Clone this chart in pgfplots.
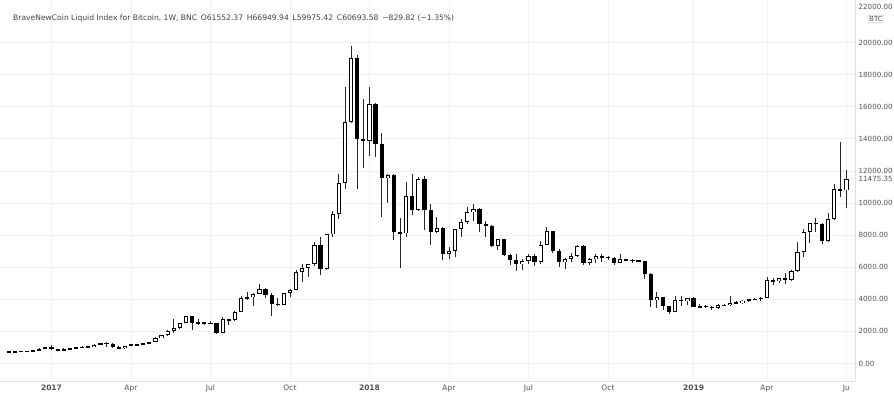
\documentclass[border=0pt]{standalone}
\usepackage{pgfplots}
\pgfplotsset{compat=1.18}
\usepackage{pgfplotstable}
\usepackage{fontspec}
\setmainfont{DejaVu Sans}
\definecolor{gridc}{RGB}{238,241,248}
\definecolor{txt}{RGB}{76,82,94}
\definecolor{sepc}{RGB}{222,225,232}

% weekly candles, w = weeks since 2 Jan 2017
\pgfplotstableread{
w o h l c
-7 703 752 690 731
-6 731 752 726 733
-5 733 778 728 765
-4 765 773 752 773
-3 773 793 768 790
-2 790 935 789 892
-1 892 1000 880 998
0 998 1150 825 905
1 905 912 755 822
2 822 935 815 920
3 920 925 885 918
4 918 1035 915 1020
5 1020 1065 940 1000
6 1000 1055 975 1050
7 1050 1200 1045 1175
8 1175 1290 1165 1270
9 1270 1330 1000 1230
10 1230 1260 960 1020
11 1020 1100 890 965
12 965 1100 920 1090
13 1090 1210 1080 1185
14 1185 1210 1160 1180
15 1180 1270 1175 1250
16 1250 1360 1245 1350
17 1350 1630 1345 1560
18 1560 1800 1560 1780
19 1780 2080 1700 2050
20 2050 2760 1900 2200
21 2200 2550 2150 2520
22 2520 2980 2500 2950
23 2950 2980 2100 2500
24 2500 2770 2430 2550
25 2550 2600 2400 2500
26 2500 2650 2470 2520
27 2520 2550 1840 1900
28 1900 2900 1880 2750
29 2750 2800 2400 2730
30 2730 3290 2650 3230
31 3230 4200 3200 4070
32 4070 4480 3980 4130
33 4130 4400 3600 4310
34 4310 4980 4300 4620
35 4620 4700 4100 4280
36 4280 4370 2980 3700
37 3700 4100 3580 3670
38 3670 4420 3650 4410
39 4410 4620 4150 4600
40 4600 5850 4580 5720
41 5720 6200 5100 5930
42 5930 6200 5400 6180
43 6180 7600 6100 7380
44 7380 7880 5500 5870
45 5870 8080 5850 8040
46 8040 9480 7900 9300
47 9300 11800 9000 11230
48 11230 17200 10900 15070
49 15070 19780 15000 19020
50 19020 19220 10900 13970
51 13970 16480 12200 13880
52 13880 17200 12900 16170
53 16170 16250 12850 13650
54 13650 14340 9150 11540
55 11540 11800 10000 11750
56 11750 11800 7700 8210
57 8210 9090 5950 8100
58 8100 11300 7900 10430
59 10430 11800 9250 9570
60 9570 11600 9500 11470
61 11470 11700 8320 9570
62 9570 9950 7380 8210
63 8210 9100 8100 8460
64 8460 8500 6450 6820
65 6820 7280 6500 7030
66 7030 8400 6620 8370
67 8370 9030 7900 8800
68 8800 9750 8700 9420
69 9420 9950 8850 9630
70 9630 9660 8220 8690
71 8690 8860 7900 8590
72 8590 8600 7250 7340
73 7340 7780 7050 7740
74 7740 7780 6700 6760
75 6760 6850 6130 6450
76 6450 6820 5780 6200
77 6200 6540 5800 6370
78 6370 6830 6230 6720
79 6720 6800 6100 6330
80 6330 7650 6200 7390
81 7390 8500 7380 8250
82 8250 8260 6900 6980
83 6980 7150 5990 6330
84 6330 6570 5880 6500
85 6500 6880 6300 6710
86 6710 7360 6650 7310
87 7310 7410 6150 6240
88 6240 6580 6150 6490
89 6490 6820 6270 6700
90 6700 6800 6350 6630
91 6630 6680 6460 6600
92 6600 6650 6150 6260
93 6260 6840 6240 6480
94 6480 6500 6420 6450
95 6450 6530 6280 6400
96 6400 6480 6300 6370
97 6370 6400 5250 5580
98 5580 5620 3500 3960
99 3960 4450 3450 4120
100 4120 4150 3350 3580
101 3580 3600 3100 3230
102 3230 4200 3190 3950
103 3950 4230 3600 3910
104 3910 4100 3670 4060
105 4060 4150 3500 3540
106 3540 3720 3480 3560
107 3560 3620 3480 3550
108 3550 3570 3350 3480
109 3480 3700 3400 3650
110 3650 3690 3560 3630
111 3630 4200 3600 3790
112 3790 3900 3710 3800
113 3800 3950 3700 3920
114 3920 4040 3850 4000
115 4000 4100 3950 4010
116 4010 4130 3920 4110
117 4110 5400 4100 5200
118 5200 5350 4880 5110
119 5110 5350 5000 5300
120 5300 5620 4960 5210
121 5210 5850 5150 5770
122 5770 7600 5700 6970
123 6970 8350 6650 8170
124 8170 8740 7500 8730
125 8730 9080 8200 8720
126 8720 8780 7470 7650
127 7650 9350 7550 9000
128 9000 11200 8970 10850
129 10850 13820 10400 10780
130 10780 12060 9670 11475.35
}\weekly

\begin{document}
\begin{tikzpicture}
\useasboundingbox (0,0) rectangle (894bp,394bp);
\begin{axis}[
    at={(0,13bp)}, anchor=south west,
    scale only axis, width=855bp, height=381bp,
    xmin=-8.42, xmax=131.4,
    ymin=-1090, ymax=22648,
    axis x line*=bottom, axis y line*=right,
    axis line style={draw=sepc, line width=0.8bp},
    major tick length=0pt,
    xtick={0,13,26,39,52,65,78,91,105,117,130},
    xticklabels={\textbf{2017},Apr,Jul,Oct,\textbf{2018},Apr,Jul,Oct,\textbf{2019},Apr,Ju},
    ytick={0,2000,4000,6000,8000,10000,12000,14000,16000,18000,20000},
    yticklabels={0.00,2000.00,4000.00,6000.00,8000.00,10000.00,12000.00,14000.00,16000.00,18000.00,20000.00},
    extra y ticks={11475.35},
    extra y tick labels={11475.35},
    extra y tick style={grid=none},
    grid=major,
    grid style={draw=gridc, line width=0.8bp},
    ticklabel style={font=\fontsize{7.5bp}{9bp}\selectfont, text=txt},
    yticklabel style={anchor=west, inner sep=0pt, xshift=3.5bp, font=\fontsize{7.1bp}{9bp}\selectfont},
    xticklabel style={anchor=north, inner sep=0pt, yshift=-3.5bp},
]

% wicks
\addplot[draw=none, mark=none, forget plot,
    error bars/.cd, y dir=both, y explicit, error mark=none,
    error bar style={draw=black!85, line width=0.9bp}]
    table[x=w, y expr={(\thisrow{h}+\thisrow{l})/2},
          y error expr={(\thisrow{h}-\thisrow{l})/2}] {\weekly};

% bodies
\addplot[draw=none, mark=none, forget plot,
    error bars/.cd, y dir=both, y explicit, error mark=none,
    error bar style={draw=black, line width=4.2bp}]
    table[x=w, y expr={(\thisrow{o}+\thisrow{c})/2},
          y error expr={max(abs(\thisrow{c}-\thisrow{o})/2,35)}] {\weekly};

% hollow inside of the rising weeks
\addplot[draw=none, mark=none, forget plot,
    error bars/.cd, y dir=both, y explicit, error mark=none,
    error bar style={draw=white, line width=2.4bp}]
    table[x=w, y expr={(\thisrow{o}+\thisrow{c})/2},
          y error expr={(\thisrow{c}>\thisrow{o})*max((\thisrow{c}-\thisrow{o})/2-56,0)}] {\weekly};

\end{axis}
\node[anchor=west, inner sep=0pt, text=black!75, font=\fontsize{7.6bp}{9bp}\selectfont]
    at (13bp,376bp) {BraveNewCoin Liquid Index for Bitcoin, 1W, BNC\enspace O61552.37\enspace H66949.94\enspace L59975.42\enspace C60693.58\enspace −829.82 (−1.35\%)};
\node[anchor=west, inner sep=0pt, text=txt, font=\fontsize{7.1bp}{9bp}\selectfont]
    at (858.5bp,387.5bp) {22000.00};
\node[draw=black!25, rounded corners=1bp, inner sep=1.2bp, text=txt, font=\fontsize{7bp}{8bp}\selectfont]
    at (876bp,375bp) {BTC};
\end{tikzpicture}
\end{document}
